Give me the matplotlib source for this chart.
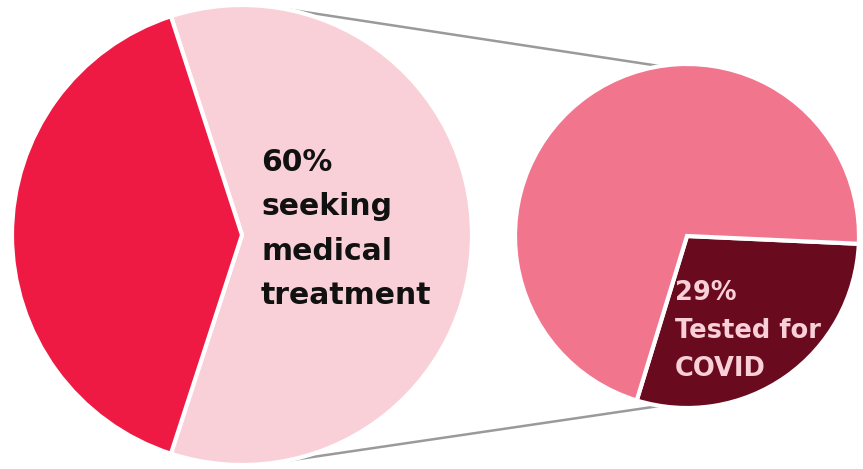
import matplotlib.pyplot as plt
import numpy as np

W, H = 863, 469

# data
main_labels = ['seeking medical treatment', 'other']
main_values = [60, 40]
sub_labels = ['Tested for COVID', 'not tested']
sub_values = [29, 71]

main_colors = ['#F9D0D8', '#EE1A43']
sub_colors = ['#6A0A1E', '#F2758E']

plt.rcParams['font.family'] = ['DejaVu Sans']

fig = plt.figure(figsize=(W / 100, H / 100), dpi=100)
ax = fig.add_axes([0, 0, 1, 1])

c1, r1 = (242, H - 235), 230
c2, r2 = (687, H - 236), 172

start1 = -180 * main_values[0] / 100
ax.pie(main_values, colors=main_colors, startangle=start1, center=c1, radius=r1,
       wedgeprops=dict(edgecolor='white', linewidth=3), frame=True)
ax.pie(sub_values, colors=sub_colors, startangle=-107, center=c2, radius=r2,
       wedgeprops=dict(edgecolor='white', linewidth=3), frame=True)
ax.set_xlim(0, W)
ax.set_ylim(0, H)
ax.set_aspect('equal')
ax.axis('off')

# connector lines
for a1, a2 in [(80, 99), (-80, -99)]:
    p1 = (c1[0] + r1 * np.cos(np.radians(a1)), c1[1] + r1 * np.sin(np.radians(a1)))
    p2 = (c2[0] + r2 * np.cos(np.radians(a2)), c2[1] + r2 * np.sin(np.radians(a2)))
    ax.plot([p1[0], p2[0]], [p1[1], p2[1]], color='#9A9A9A', lw=1.8, zorder=0)

ax.text(261, H - 229, '60%\nseeking\nmedical\ntreatment', ha='left', va='center',
        fontsize=21.5, fontweight='bold', color='#111111', linespacing=1.66)
ax.text(675, H - 331, '29%\nTested for\nCOVID', ha='left', va='center',
        fontsize=18.5, fontweight='bold', color='#F9D0D8', linespacing=1.62)

fig.savefig('out.png', dpi=100)
